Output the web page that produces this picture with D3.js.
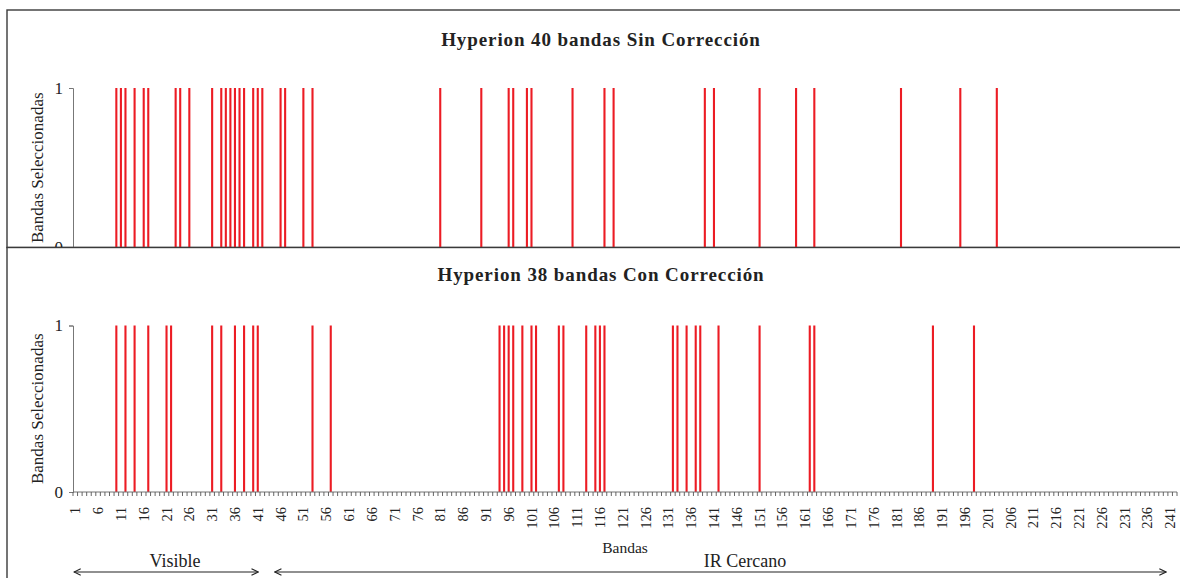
<!DOCTYPE html>
<html>
<head>
<meta charset="utf-8">
<script src="https://cdn.jsdelivr.net/npm/d3@7"></script>
<style>
  html, body { margin: 0; padding: 0; background: #fff; }
  svg { display: block; }
  text { font-family: "Liberation Serif", "Times New Roman", serif; fill: #222; }
</style>
</head>
<body>
<svg id="chart" width="1180" height="578"></svg>
<script>
// ---- Data ----
const bandFirst = 1, bandLast = 242;           // Hyperion bands on the category axis
const tickLabels = [1, 6, 11, 16, 21, 26, 31, 36, 41, 46, 51, 56, 61, 66, 71, 76, 81, 86, 91, 96,
  101, 106, 111, 116, 121, 126, 131, 136, 141, 146, 151, 156, 161, 166, 171, 176, 181, 186, 191, 196,
  201, 206, 211, 216, 221, 226, 231, 236, 241];
const yTicks = [0, 1];
// Selected bands (value = 1) for each panel
const sinCorreccion = [10, 11, 12, 14, 16, 17, 23, 24, 26, 31, 33, 34, 35, 36, 37, 38, 40, 41, 42, 46,
  47, 51, 53, 81, 90, 96, 97, 100, 101, 110, 117, 119, 139, 141, 151, 159, 163, 182, 195, 203];
const conCorreccion = [10, 12, 14, 17, 21, 22, 31, 33, 36, 38, 40, 41, 53, 57, 94, 95, 96, 97, 99, 101,
  102, 107, 108, 113, 115, 116, 117, 132, 133, 135, 137, 138, 142, 151, 162, 163, 189, 198];
const titles = ["Hyperion 40 bandas Sin Corrección", "Hyperion 38 bandas Con Corrección"];
const yTitle = "Bandas Seleccionadas";
const xTitle = "Bandas";
const regions = [
  { name: "Visible", from: 1, to: 41 },
  { name: "IR Cercano", from: 45, to: 240 }
];

// ---- Drawing ----
const svg = d3.select("#chart");
const bands = d3.range(bandFirst, bandLast + 1);
const x = d3.scaleBand().domain(bands).range([73, 1177]).padding(0);
const barW = x.bandwidth() * 0.46;
const red = "#ec1c24";

svg.append("defs").append("marker")
  .attr("id", "arr").attr("viewBox", "0 0 10 10").attr("refX", 9).attr("refY", 5)
  .attr("markerWidth", 7).attr("markerHeight", 7).attr("orient", "auto-start-reverse")
  .append("path").attr("d", "M1,1 L9,5 L1,9").attr("fill", "none").attr("stroke", "#222").attr("stroke-width", 1.3);

function panel(cfg) {
  const g = svg.append("g");
  // panel background + frame
  g.append("rect").attr("x", 7).attr("y", cfg.top).attr("width", 1190).attr("height", cfg.bottom - cfg.top)
    .attr("fill", "#fff").attr("stroke", "#3a3a3a").attr("stroke-width", 1.4);

  const y = d3.scaleLinear().domain([0, 1]).range([cfg.y0, cfg.y1]);

  g.append("text").attr("x", 601).attr("y", cfg.titleY).attr("text-anchor", "middle")
    .attr("font-weight", "bold").attr("font-size", 19).attr("letter-spacing", 0.9).text(cfg.title);

  g.append("text").attr("transform", `translate(37,${(cfg.y0 + cfg.y1) / 2}) rotate(-90)`)
    .attr("text-anchor", "middle").attr("dy", "0.35em").attr("font-size", 17).text(yTitle);

  // bars
  g.selectAll("rect.bar").data(cfg.data).enter().append("rect").attr("class", "bar")
    .attr("x", d => x(d) + x.bandwidth() / 2 - barW / 2)
    .attr("y", y(1)).attr("width", barW).attr("height", y(0) - y(1)).attr("fill", red);

  // y axis
  const ya = d3.axisLeft(y).tickValues(yTicks).tickFormat(d3.format("d")).tickSize(4).tickPadding(6);
  const yg = g.append("g").attr("transform", "translate(73,0)").call(ya);
  yg.select(".domain").attr("stroke", "#777");
  yg.selectAll(".tick line").attr("stroke", "#777");
  yg.selectAll("text").attr("font-size", 17).attr("font-family", "Liberation Serif").attr("fill", "#222");

  // x axis line
  g.append("line").attr("x1", 73).attr("x2", 1177).attr("y1", y(0)).attr("y2", y(0))
    .attr("stroke", cfg.labels ? "#777" : "#3a3a3a").attr("stroke-width", 1.2);

  if (cfg.labels) {
    const edges = bands.map(b => x(b)).concat([x(bandLast) + x.bandwidth()]);
    g.selectAll("line.mt").data(edges).enter().append("line").attr("class", "mt")
      .attr("x1", d => d).attr("x2", d => d).attr("y1", y(0)).attr("y2", y(0) + 4)
      .attr("stroke", "#555").attr("stroke-width", 0.9);
    g.selectAll("text.xl").data(tickLabels).enter().append("text").attr("class", "xl")
      .attr("transform", d => `translate(${x(d) + x.bandwidth() / 2},${y(0) + 15}) rotate(-90)`)
      .attr("text-anchor", "end").attr("dy", "0.35em").attr("font-size", 14.5).text(d => d);
  }
  return y;
}

panel({ top: 10, bottom: 247.5, y0: 247.5, y1: 88, titleY: 46, title: titles[0], data: sinCorreccion, labels: false });
panel({ top: 247.5, bottom: 590, y0: 492, y1: 325.5, titleY: 281, title: titles[1], data: conCorreccion, labels: true });

// x title and spectral regions
svg.append("text").attr("x", 625).attr("y", 553).attr("text-anchor", "middle").attr("font-size", 15.5).text(xTitle);

const regionLabelX = [175, 745];
regions.forEach((r, i) => {
  const x1 = x(r.from) + 1, x2 = x(r.to) + x.bandwidth() * 0.6;
  svg.append("line").attr("x1", x1).attr("x2", x2).attr("y1", 572).attr("y2", 572)
    .attr("stroke", "#222").attr("stroke-width", 1.2)
    .attr("marker-start", "url(#arr)").attr("marker-end", "url(#arr)");
  svg.append("text").attr("x", regionLabelX[i]).attr("y", 567).attr("text-anchor", "middle")
    .attr("font-size", 18).text(r.name);
});
</script>
</body>
</html>
